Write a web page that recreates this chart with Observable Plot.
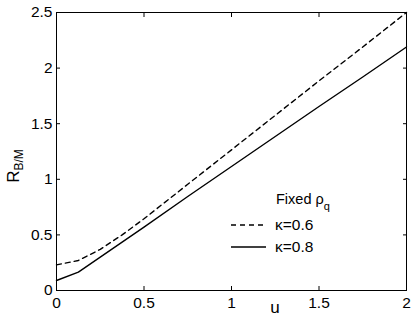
<!DOCTYPE html>
<html>
<head>
<meta charset="utf-8">
<script src="https://cdn.jsdelivr.net/npm/d3@7"></script>
<script src="https://cdn.jsdelivr.net/npm/@observablehq/plot@0.6"></script>
<style>
  html, body { margin: 0; padding: 0; background: white; }
  svg text { font-family: "Liberation Sans", Arial, Helvetica, sans-serif; }
</style>
</head>
<body>
<div id="chart"></div>
<script>
const u = [0, 0.125, 0.25, 0.375, 0.5, 0.75, 1, 1.25, 1.5, 1.75, 2];
const kappa06 = [0.23, 0.27, 0.37, 0.50, 0.645, 0.955, 1.265, 1.575, 1.885, 2.19, 2.5];
const kappa08 = [0.09, 0.165, 0.30, 0.435, 0.57, 0.845, 1.115, 1.385, 1.655, 1.92, 2.19];
const xTicks = [0, 0.5, 1, 1.5, 2];
const xTickLabels = ["0", "0.5", "1", "1.5", "2"];
const yTicks = [0, 0.5, 1, 1.5, 2, 2.5];
const yTickLabels = ["0", "0.5", "1", "1.5", "2", "2.5"];
const seriesNames = ["κ=0.6", "κ=0.8"];

const rows06 = u.map((x, i) => ({u: x, r: kappa06[i]}));
const rows08 = u.map((x, i) => ({u: x, r: kappa08[i]}));

const W = 415, H = 319;
const mL = 56, mR = 9, mT = 12, mB = 29;
const fs = 15.5;

const chart = Plot.plot({
  width: W, height: H,
  marginLeft: mL, marginRight: mR, marginTop: mT, marginBottom: mB,
  x: {domain: [0, 2]},
  y: {domain: [0, 2.5]},
  style: {fontFamily: "Liberation Sans, Arial, sans-serif", fontSize: fs + "px", color: "black", background: "white"},
  marks: [
    Plot.axisX({anchor: "bottom", ticks: xTicks, tickSize: 0, tickPadding: 6, tickFormat: (d) => xTickLabels[xTicks.indexOf(d)], label: null, fontSize: fs}),
    Plot.axisY({anchor: "left", ticks: yTicks, tickSize: 0, tickPadding: 4, tickFormat: (d) => yTickLabels[yTicks.indexOf(d)], label: null, fontSize: fs}),
    Plot.axisX({anchor: "bottom", ticks: xTicks, tickSize: -4, tickFormat: () => "", label: null}),
    Plot.axisX({anchor: "top", ticks: xTicks, tickSize: -4, tickFormat: () => "", label: null}),
    Plot.axisY({anchor: "left", ticks: yTicks, tickSize: -4, tickFormat: () => "", label: null}),
    Plot.axisY({anchor: "right", ticks: yTicks, tickSize: -4, tickFormat: () => "", label: null}),
    Plot.line(rows06, {x: "u", y: "r", stroke: "black", strokeWidth: 1.4, strokeDasharray: "5,4"}),
    Plot.line(rows08, {x: "u", y: "r", stroke: "black", strokeWidth: 1.4}),
    Plot.frame({stroke: "black", strokeWidth: 1})
  ]
});
document.getElementById("chart").appendChild(chart);

// annotations: axis titles and legend
const svg = d3.select(chart);
const g = svg.append("g").attr("fill", "black").attr("text-anchor", "start")
  .style("font-family", "Liberation Sans, Arial, sans-serif");

// x-axis title
g.append("text").attr("x", 275).attr("y", 313).attr("text-anchor", "middle").attr("font-size", 17).text("u");

// y-axis title R_{B/M}
const yt = g.append("text").attr("transform", "translate(19,166) rotate(-90)").attr("text-anchor", "middle").attr("font-size", 17);
yt.append("tspan").text("R");
yt.append("tspan").attr("font-size", 12).attr("dy", 4).text("B/M");

// legend
const lg = g.append("g");
const ft = lg.append("text").attr("x", 276).attr("y", 204).attr("font-size", fs - 1);
ft.append("tspan").text("Fixed ρ");
ft.append("tspan").attr("font-size", 11).attr("dy", 6).text("q");

const legendStyles = ["5,4", null];
const legendY = [225, 247];
seriesNames.forEach((name, i) => {
  const line = lg.append("line").attr("x1", 231).attr("x2", 266).attr("y1", legendY[i]).attr("y2", legendY[i])
    .attr("stroke", "black").attr("stroke-width", 1.4);
  if (legendStyles[i]) line.attr("stroke-dasharray", legendStyles[i]);
  lg.append("text").attr("x", 275).attr("y", legendY[i] + 5).attr("font-size", fs).text(name);
});
</script>
</body>
</html>
